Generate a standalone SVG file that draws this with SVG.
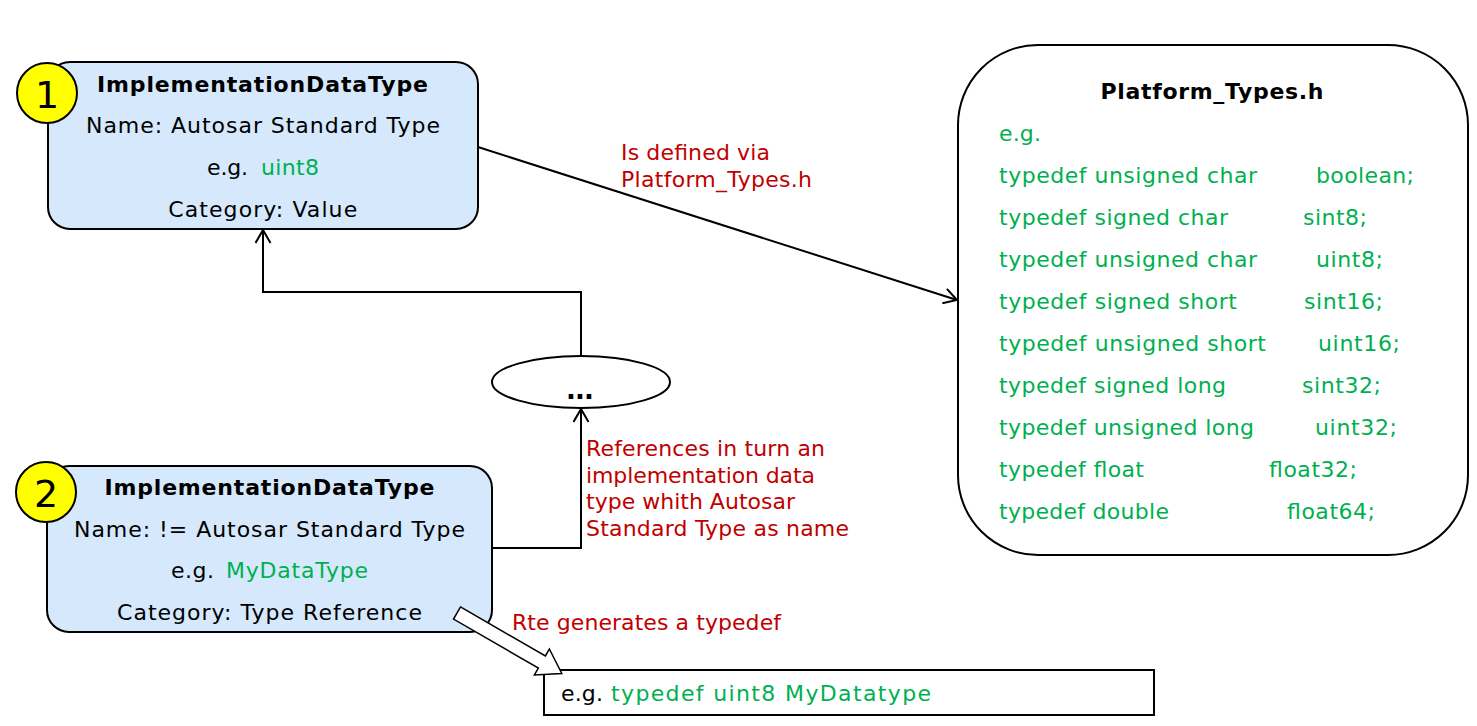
<svg xmlns="http://www.w3.org/2000/svg" width="1477" height="726" viewBox="0 0 1477 726">
<defs>
<style>
text{font-family:"DejaVu Sans","Verdana",sans-serif;font-size:22px;}
.blk{fill:#000000;}
.b{font-weight:bold;}
.g{fill:#00B050;}
.r{fill:#C00000;}
.box{fill:#D5E8FC;stroke:#000000;stroke-width:2;}
.badge{fill:#FFFF00;stroke:#000000;stroke-width:2;}
.num{font-size:38px;fill:#000000;}
.conn{fill:none;stroke:#000000;stroke-width:2;}
</style>
<marker id="open" viewBox="0 0 16 17" refX="14" refY="8.5" markerWidth="16" markerHeight="17" markerUnits="userSpaceOnUse" orient="auto">
<path d="M1,1 L14,8.5 L1,16" fill="none" stroke="#000000" stroke-width="2"/>
</marker>
</defs>
<rect width="1477" height="726" fill="#FFFFFF"/>

<g id="connectors">
<path class="conn" d="M478,147 L957,300" marker-end="url(#open)"/>
<path class="conn" d="M581,356 L581,292 L263,292 L263,230" marker-end="url(#open)"/>
<path class="conn" d="M492,548 L581,548 L581,409" marker-end="url(#open)"/>
<text class="r" x="621" y="160" textLength="149">Is defined via</text>
<text class="r" x="621" y="187" textLength="191">Platform_Types.h</text>
<text class="r" x="586" y="456" textLength="239">References in turn an</text>
<text class="r" x="586" y="483" textLength="229">implementation data</text>
<text class="r" x="586" y="509" textLength="209">type whith Autosar</text>
<text class="r" x="586" y="536" textLength="263">Standard Type as name</text>
<text class="r" x="512" y="630" textLength="269">Rte generates a typedef</text>
</g>

<g id="node1">
<rect class="box" x="48" y="62" width="430" height="167" rx="22" ry="22"/>
<text class="blk b" x="262.5" y="92" text-anchor="middle" textLength="331">ImplementationDataType</text>
<text class="blk" x="263" y="133" text-anchor="middle" textLength="354">Name: Autosar Standard Type</text>
<text class="blk" x="207" y="175" textLength="41">e.g.</text>
<text class="g" x="261" y="175" textLength="58">uint8</text>
<text class="blk" x="262.7" y="217" text-anchor="middle" textLength="189">Category: Value</text>
<circle class="badge" cx="47" cy="93" r="30"/>
<text class="num" x="47" y="108" text-anchor="middle">1</text>
</g>

<g id="node2">
<rect class="box" x="47" y="466" width="445" height="166" rx="22" ry="22"/>
<text class="blk b" x="269.5" y="495" text-anchor="middle" textLength="330">ImplementationDataType</text>
<text class="blk" x="269.5" y="537" text-anchor="middle" textLength="391">Name: != Autosar Standard Type</text>
<text class="blk" x="171" y="578" textLength="43">e.g.</text>
<text class="g" x="226" y="578" textLength="142">MyDataType</text>
<text class="blk" x="269.5" y="620" text-anchor="middle" textLength="305">Category: Type Reference</text>
<circle class="badge" cx="46" cy="492" r="30"/>
<text class="num" x="46" y="507" text-anchor="middle">2</text>
</g>

<g id="node-ellipsis">
<ellipse cx="581" cy="382" rx="89" ry="26" fill="#FFFFFF" stroke="#000000" stroke-width="2"/>
<text class="blk b" x="580" y="399" text-anchor="middle" style="font-size:26px" textLength="28">...</text>
</g>

<g id="node-platform">
<rect x="958" y="45" width="510" height="510" rx="80" ry="80" fill="#FFFFFF" stroke="#000000" stroke-width="2"/>
<text class="blk b" x="1212" y="99" text-anchor="middle" textLength="223">Platform_Types.h</text>
<text class="g" x="999" y="141" textLength="42">e.g.</text>
<text class="g" x="999" y="183" textLength="258">typedef unsigned char</text>
<text class="g" x="1316" y="183" textLength="98">boolean;</text>
<text class="g" x="999" y="225" textLength="229">typedef signed char</text>
<text class="g" x="1303" y="225" textLength="64">sint8;</text>
<text class="g" x="999" y="267" textLength="258">typedef unsigned char</text>
<text class="g" x="1316" y="267" textLength="67">uint8;</text>
<text class="g" x="999" y="309" textLength="238">typedef signed short</text>
<text class="g" x="1304" y="309" textLength="79">sint16;</text>
<text class="g" x="999" y="351" textLength="267">typedef unsigned short</text>
<text class="g" x="1318" y="351" textLength="82">uint16;</text>
<text class="g" x="999" y="393" textLength="227">typedef signed long</text>
<text class="g" x="1302" y="393" textLength="79">sint32;</text>
<text class="g" x="999" y="435" textLength="255">typedef unsigned long</text>
<text class="g" x="1315" y="435" textLength="82">uint32;</text>
<text class="g" x="999" y="477" textLength="145">typedef float</text>
<text class="g" x="1269" y="477" textLength="88">float32;</text>
<text class="g" x="999" y="519" textLength="170">typedef double</text>
<text class="g" x="1287" y="519" textLength="88">float64;</text>
</g>

<g id="node-typedef">
<rect x="544" y="670" width="610" height="45" fill="#FFFFFF" stroke="#000000" stroke-width="2"/>
<text class="blk" x="561" y="701" textLength="42">e.g.</text>
<text class="g" x="611" y="701" textLength="320">typedef uint8 MyDatatype</text>
</g>

<g id="block-arrow">
<polygon points="0,-7 98,-7 98,-15 121,0 98,15 98,7 0,7" transform="translate(457,613) rotate(30)" fill="#FFFFFF" stroke="#000000" stroke-width="1.5"/>
</g>
</svg>
